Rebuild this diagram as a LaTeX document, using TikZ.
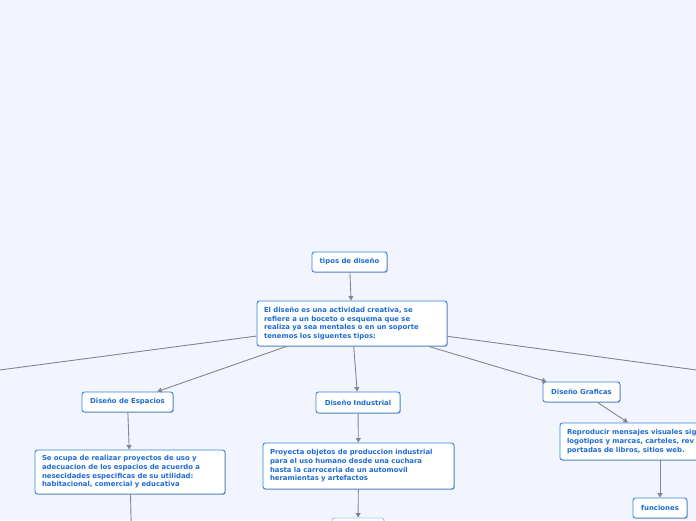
\documentclass[tikz,border=0pt]{standalone}
\usepackage{fontspec}
\setmainfont{DejaVu Sans}
\usetikzlibrary{arrows.meta,shadows}
\definecolor{bgc}{RGB}{242,245,254}
\definecolor{txtc}{RGB}{30,108,212}
\definecolor{brdc}{RGB}{50,132,226}
\definecolor{linec}{RGB}{132,134,140}
\tikzset{
  box/.style={draw=brdc, line width=0.9pt, fill=white, rounded corners=2.5pt,
    text=txtc, font=\fontsize{6.9}{8.7}\selectfont\bfseries, inner sep=0pt,
    drop shadow={shadow xshift=0.8pt, shadow yshift=-0.8pt, opacity=0.25, fill=black}},
  conn/.style={draw=linec, line width=0.9pt, -{Triangle[width=5pt,length=4.5pt]}},
  plain/.style={draw=linec, line width=0.9pt}
}
\begin{document}
\begin{tikzpicture}[x=1pt,y=-1pt]
\fill[bgc] (0,0) rectangle (696,520);
\useasboundingbox (0,0) rectangle (696,520);
\clip (0,0) rectangle (696,520);
\node[box, minimum width=75pt, minimum height=20pt] (t) at (349.5,262) {tipos de diseño};
\node[box, minimum width=190pt, minimum height=45pt, text width=176pt, align=left] (m) at (352,323.5)
  {El diseño es una actividad creativa, se\\refiere a un boceto o esquema que se\\realiza ya sea mentales o en un soporte\\tenemos los siguentes tipos:};
\node[box, minimum width=91pt, minimum height=20pt] (e) at (127.5,402) {Diseño de Espacios};
\node[box, minimum width=190pt, minimum height=44pt, text width=176pt, align=left] (ed) at (130,472)
  {Se ocupa de realizar proyectos de uso y\\adecuacion de los espacios de acuerdo a\\nesecidades especificas de su utilidad:\\habitacional, comercial y educativa};
\node[box, minimum width=84pt, minimum height=21pt] (i) at (358,402.5) {Diseño Industrial};
\node[box, minimum width=191pt, minimum height=46pt, text width=177pt, align=left] (id) at (358.5,466)
  {Proyecta objetos de  produccion industrial\\para el uso humano desde una cuchara\\hasta la carroceria de  un automovil\\heramientas y artefactos};
\node[box, draw=brdc!45, minimum width=52pt, minimum height=24pt] (ib) at (358,530) {};
\node[box, minimum width=77pt, minimum height=20pt] (g) at (581.5,392) {Diseño Graficas};
\node[box, minimum width=160pt, minimum height=37pt, text width=146pt, align=left] (gd) at (640,441.5)
  {Reproducir mensajes visuales sig\\logotipos y marcas, carteles, rev\\portadas de libros, sitios web.};
\node[box, minimum width=54pt, minimum height=20pt] (f) at (660,508) {funciones};
\coordinate (L) at (-200,396.4);
\coordinate (R) at (900,397.5);
\coordinate (ed2) at (132,560);
\draw[conn] (t) -- (m);
\draw[plain] (m) -- (L);
\draw[plain] (m) -- (R);
\draw[conn] (m) -- (e);
\draw[conn] (m) -- (i);
\draw[conn] (m) -- (g);
\draw[conn] (e) -- (ed);
\draw[plain] (ed) -- (ed2);
\draw[conn] (i) -- (id);
\draw[conn] (id) -- (ib);
\draw[conn] ([xshift=16pt]g.south) -- ([xshift=-12pt]gd.north);
\draw[conn] (f |- gd.south) -- (f);
\end{tikzpicture}
\end{document}
